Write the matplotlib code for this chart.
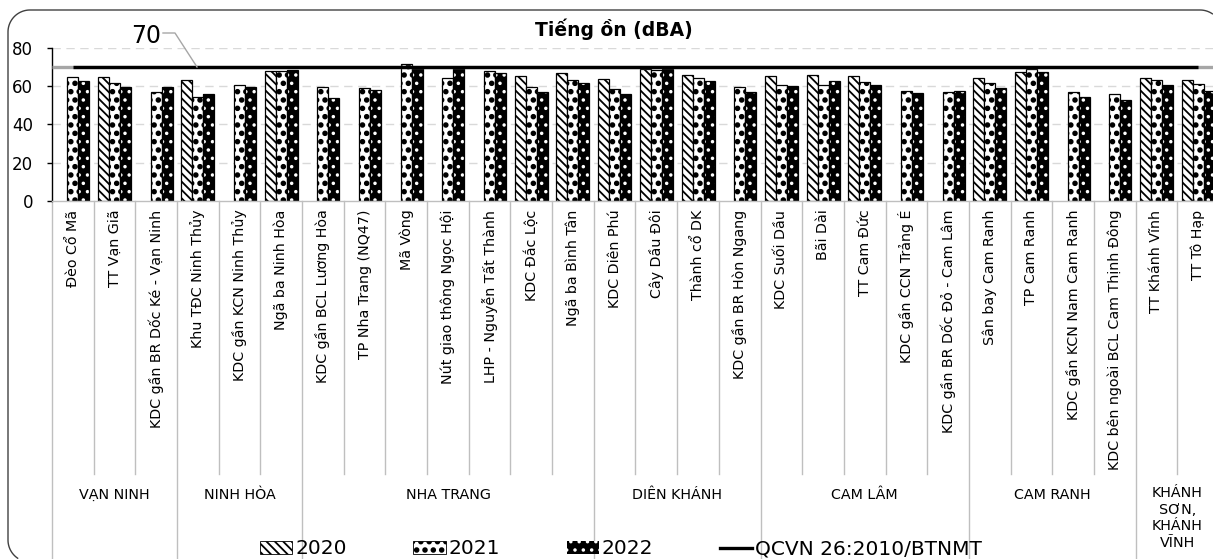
import numpy as np
import matplotlib
matplotlib.use("Agg")
import matplotlib.pyplot as plt
import matplotlib.hatch as mhatch
from matplotlib.patches import Patch
from matplotlib.lines import Line2D
from matplotlib.transforms import Affine2D

plt.rcParams['font.family'] = ['DejaVu Sans']
plt.rcParams['hatch.linewidth'] = 1.3
plt.rcParams['savefig.bbox'] = 'standard'
mhatch.LargeCircles.filled = True
mhatch.LargeCircles.size = 0.22

nan = np.nan
categories = ["Đèo Cổ Mã", "TT Vạn Giã", "KDC gần BR Dốc Ké - Vạn Ninh",
              "Khu TĐC Ninh Thủy", "KDC gần KCN Ninh Thủy", "Ngã ba Ninh Hòa",
              "KDC gần BCL Lương Hòa", "TP Nha Trang (NQ47)", "Mã Vòng",
              "Nút giao thông Ngọc Hội", "LHP - Nguyễn Tất Thành", "KDC Đắc Lộc",
              "Ngã ba Bình Tân", "KDC Diên Phú", "Cây Dầu Đôi", "Thành cổ DK",
              "KDC gần BR Hòn Ngang", "KDC Suối Dầu", "Bãi Dài", "TT Cam Đức",
              "KDC gần CCN Trảng É", "KDC gần BR Dốc Đỏ - Cam Lâm", "Sân bay Cam Ranh",
              "TP Cam Ranh", "KDC gần KCN Nam Cam Ranh", "KDC bên ngoài BCL Cam Thịnh Đông",
              "TT Khánh Vĩnh", "TT Tô Hạp"]
v2020 = [nan, 64.8, nan, 63.0, nan, 67.7, nan, nan, nan, nan, nan, 65.1, 67.0, 63.9,
         69.2, 65.6, nan, 65.2, 66.0, 65.2, nan, nan, 64.5, 67.6, nan, nan, 64.5, 63.2]
v2021 = [64.9, 61.7, 56.8, 54.2, 60.4, 67.9, 59.4, 58.9, 71.6, 64.5, 67.7, 59.7, 63.3,
         58.4, 68.5, 64.5, 59.6, 60.8, 60.8, 62.4, 57.3, 56.9, 61.6, 69.1, 57.2, 55.8,
         63.2, 61.4]
v2022 = [62.7, 59.8, 59.5, 55.9, 59.6, 68.7, 54.0, 58.1, 70.2, 69.5, 66.8, 57.0, 61.7,
         55.9, 69.1, 62.5, 57.0, 60.2, 62.9, 60.5, 56.5, 57.7, 59.0, 67.2, 54.2, 52.8,
         60.7, 57.3]
qcvn = [70] * len(categories)
groups = ["VẠN NINH", "NINH HÒA", "NHA TRANG", "DIÊN KHÁNH", "CAM LÂM", "CAM RANH",
          "KHÁNH\nSƠN,\nKHÁNH\nVĨNH"]
group_sizes = [3, 3, 7, 4, 5, 4, 2]
series_labels = ["2020", "2021", "2022", "QCVN 26:2010/BTNMT"]

W, H = 1213, 559
fig = plt.figure(figsize=(W / 100, H / 100), dpi=100)
pxT = Affine2D().scale(1 / W, -1 / H).translate(0, 1) + fig.transFigure

y0px, y80px = 200.7, 48.0
ax_left, ax_right = 52.0, 1219.0
ax = fig.add_axes([ax_left / W, (H - y0px) / H, (ax_right - ax_left) / W, (y0px - y80px) / H])
n = len(categories)
x = np.arange(n)
ax.set_xlim(-0.5, n - 0.5)
ax.set_ylim(0, 80)

def yfrac(py):
    return (y0px - py) / (y0px - y80px)

# grid
for g in [20, 40, 60, 80]:
    ax.axhline(g, color='#D9D9D9', lw=1.0, ls=(0, (6, 4)), zorder=0.5)

w = 0.264
h2020 = '\\\\\\\\'
ax.bar(x - w, v2020, w, facecolor='white', edgecolor='black', hatch=h2020,
       linewidth=0.9, zorder=2)
ax.bar(x, v2021, w, facecolor='white', edgecolor='black', hatch='OO',
       linewidth=0.9, zorder=2)
ax.bar(x + w, v2022, w, facecolor='black', edgecolor='white', hatch='..',
       linewidth=0, zorder=2)
ax.bar(x + w, v2022, w, facecolor='none', edgecolor='black', linewidth=0.9, zorder=2.1)

# QCVN line
ax.plot([-0.5, n - 0.5], [qcvn[0], qcvn[-1]], color='#A6A6A6', lw=2.4, zorder=3,
        solid_capstyle='butt')
ax.plot(x, qcvn, color='black', lw=2.4, zorder=3.1, solid_capstyle='butt')

# axes styling
for s in ['top', 'right']:
    ax.spines[s].set_visible(False)
ax.spines['left'].set_color('black')
ax.spines['left'].set_linewidth(1.0)
ax.spines['bottom'].set_color('#BFBFBF')
ax.spines['bottom'].set_linewidth(1.0)
ax.set_yticks([0, 20, 40, 60, 80])
ax.tick_params(axis='y', labelsize=12, length=3.5, width=1, direction='out', pad=10,
               color='black')
ax.set_xticks(x)
ax.set_xticklabels(categories, rotation=90, fontsize=10.3)
ax.tick_params(axis='x', length=0, pad=6.5)

# category table
xt = ax.get_xaxis_transform()
bounds = np.cumsum([0] + group_sizes)
for i in range(1, n):
    if i in bounds:
        continue
    ax.plot([i - 0.5, i - 0.5], [0, yfrac(474)], transform=xt, color='#BFBFBF',
            lw=1.0, clip_on=False, zorder=1)
for b in bounds[:-1]:
    ax.plot([b - 0.5, b - 0.5], [0, yfrac(H)], transform=xt, color='#BFBFBF',
            lw=1.0, clip_on=False, zorder=1)
for gi, g in enumerate(groups):
    cx = (bounds[gi] + bounds[gi + 1] - 1) / 2
    if '\n' in g:
        ax.text(cx, yfrac(486), g, transform=xt, ha='center', va='top', fontsize=10.3,
                linespacing=1.25, clip_on=False)
    else:
        ax.text(cx, yfrac(495), g, transform=xt, ha='center', va='center',
                fontsize=10.3, clip_on=False)

# title and 70 label
fig.text(614, 29, "Tiếng ồn (dBA)", transform=pxT, ha='center', va='center',
         fontsize=13.5, fontweight='bold')
fig.text(146, 36, "70", transform=pxT, ha='center', va='center', fontsize=17)
fig.add_artist(Line2D([163, 175, 197], [33, 33, 67], transform=pxT, color='#A6A6A6',
                      lw=1.0))

# legend
handles = [Patch(facecolor='white', edgecolor='black', hatch=h2020, lw=0.6),
           Patch(facecolor='white', edgecolor='black', hatch='OO', lw=0.6),
           Patch(facecolor='black', edgecolor='white', hatch='..', lw=0),
           Line2D([0], [0], color='black', lw=2.4)]
fig.legend(handles, series_labels, loc='center', bbox_to_anchor=(621 / W, (H - 549) / H),
           ncol=4, frameon=False, fontsize=14.5, handlelength=1.6, handleheight=0.6,
           handletextpad=0.15, columnspacing=3.3, borderaxespad=0, borderpad=0)

# rounded chart border (visible part only), top-origin pixel units
L, T, R, B, r = 8.0, 10.0, 1222.0, 562.0, 22.0
t = np.linspace(0, np.pi / 2, 30)
bl_x = (L + r) - r * np.cos(t)          # bottom-left arc, from left edge downward
bl_y = (B - r) + r * np.sin(t)
keep = bl_y <= H - 0.5
bl_x, bl_y = bl_x[keep][::-1], bl_y[keep][::-1]
tl_x = (L + r) - r * np.cos(t)
tl_y = (T + r) - r * np.sin(t)
tr_x = (R - r) + r * np.sin(t)
tr_y = (T + r) - r * np.cos(t)
keep = tr_x <= W - 0.5
tr_x, tr_y = tr_x[keep], tr_y[keep]
bx = np.concatenate([bl_x, tl_x, tr_x])
by = np.concatenate([bl_y, tl_y, tr_y])
fig.add_artist(Line2D(bx, by, transform=pxT, color='#404040', lw=1.0))

fig.savefig("out.png", dpi=100, bbox_inches=None)
